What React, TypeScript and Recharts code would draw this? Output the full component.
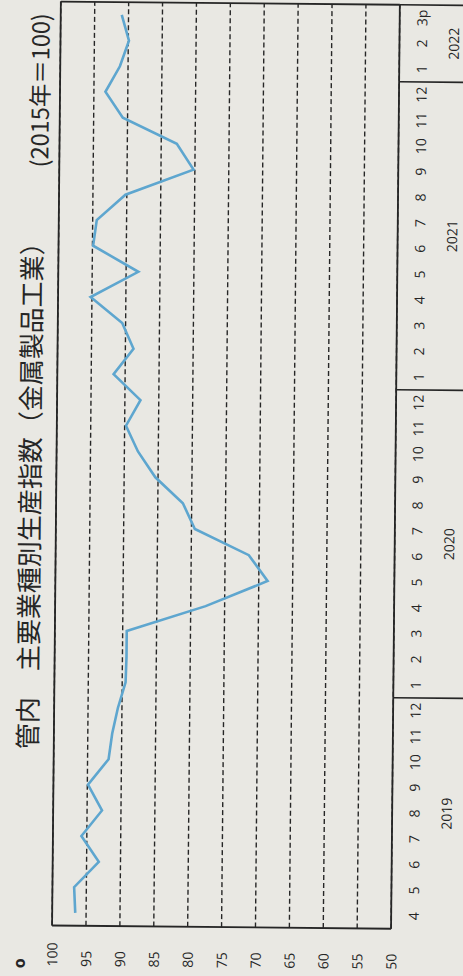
import React from "react";
import { LineChart, Line, XAxis, YAxis, CartesianGrid, ReferenceLine } from "recharts";

// 管内 主要業種別生産指数（金属製品工業） 2019/4 - 2022/3p
const months = [
  "4", "5", "6", "7", "8", "9", "10", "11", "12",
  "1", "2", "3", "4", "5", "6", "7", "8", "9", "10", "11", "12",
  "1", "2", "3", "4", "5", "6", "7", "8", "9", "10", "11", "12",
  "1", "2", "3p",
];
const values = [
  96.6, 96.8, 93.2, 95.8, 92.8, 94.9, 91.9, 91.4, 90.6,
  89.5, 89.4, 89.4, 77.8, 68.7, 71.5, 79.5, 81.3, 85.4, 88.0, 89.8, 87.7,
  91.7, 88.8, 90.5, 95.2, 88.2, 94.9, 94.4, 90.2, 80.2, 82.7, 90.7, 93.3,
  91.2, 89.9, 91.0,
];
const years = ["2019", "2020", "2021", "2022"];
const monthsPerYear = [9, 12, 12, 3];
const yTicks = [50, 55, 60, 65, 70, 75, 80, 85, 90, 95, 100];

const data = months.map((m, i) => ({ key: i, m, v: values[i] }));

// year boundaries / centres on a 0..36 month scale
const bounds: number[] = [];
const centres: number[] = [];
const centreLabel: Record<string, string> = {};
let acc = 0;
monthsPerYear.forEach((n, i) => {
  const c = acc + n / 2;
  centres.push(c);
  centreLabel[String(c)] = years[i];
  acc += n;
  bounds.push(acc);
});
const yearTicks = [...centres, ...bounds].sort((a, b) => a - b);

const W = 976;
const H = 463;
const PLOT_L = 50;
const PLOT_R = 974;
const PLOT_T = 53;
const PLOT_B = 392;
const MONTH_H = 26;
const YEAR_H = H - PLOT_B - MONTH_H;
const band = (PLOT_R - PLOT_L) / months.length;

const INK = "#262626";
const PAPER = "#e9e8e3";
const NUM_FONT = "'Open Sans', sans-serif";
const JP_FONT = "'Noto Sans CJK JP', sans-serif";

function YTick({ y, payload }: any) {
  return (
    <text x={9} y={y} dominantBaseline="central" textAnchor="start" fontSize={14} fill={INK} fontFamily={NUM_FONT}>
      {payload.value}
    </text>
  );
}

function MonthTick({ x, payload }: any) {
  return (
    <text x={x} y={PLOT_B + 22} dominantBaseline="central" textAnchor="middle" fontSize={14} fill={INK} fontFamily={NUM_FONT}>
      {months[payload.value]}
    </text>
  );
}

function YearTick({ x, payload }: any) {
  const label = centreLabel[String(payload.value)];
  if (label) {
    return (
      <text x={x} y={PLOT_B + 54} dominantBaseline="central" textAnchor="middle" fontSize={14} fill={INK} fontFamily={NUM_FONT}>
        {label}
      </text>
    );
  }
  return <line x1={x} x2={x} y1={PLOT_B} y2={H} stroke={INK} strokeWidth={1.6} />;
}

export default function App() {
  return (
    <div
      style={{
        position: "fixed",
        left: 0,
        top: 0,
        width: 463,
        height: 976,
        overflow: "hidden",
        background: PAPER,
      }}
    >
      <div
        style={{
          position: "absolute",
          left: 0,
          top: 0,
          width: W,
          height: H,
          transformOrigin: "0 0",
          transform: "translate(-1.4px, 975px) rotate(-89.455deg)",
        }}
      >
        <LineChart
          width={W}
          height={H}
          data={data}
          margin={{ top: PLOT_T, right: W - PLOT_R, bottom: 0, left: 0 }}
        >
          <CartesianGrid
            xAxisId="m"
            vertical={false}
            stroke={INK}
            strokeDasharray="5 3"
            strokeWidth={1.4}
          />
          <XAxis
            xAxisId="m"
            dataKey="key"
            height={MONTH_H}
            interval={0}
            tickSize={0}
            tickMargin={0}
            tickLine={false}
            padding={{ left: band / 2, right: band / 2 }}
            axisLine={{ stroke: INK, strokeWidth: 1.8 }}
            tick={<MonthTick />}
          />
          <XAxis
            xAxisId="yr"
            type="number"
            dataKey="key"
            domain={[0, months.length]}
            allowDataOverflow
            ticks={yearTicks}
            interval={0}
            height={YEAR_H}
            tickSize={0}
            tickMargin={0}
            tickLine={false}
            axisLine={false}
            tick={<YearTick />}
          />
          <YAxis
            domain={[50, 100]}
            ticks={yTicks}
            interval={0}
            width={PLOT_L}
            tickLine={false}
            axisLine={{ stroke: INK, strokeWidth: 1.8 }}
            tick={<YTick />}
          />
          <ReferenceLine xAxisId="m" y={100} stroke={INK} strokeWidth={1.8} />
          <ReferenceLine xAxisId="yr" x={months.length} stroke={INK} strokeWidth={1.8} />
          <Line
            xAxisId="m"
            type="linear"
            dataKey="v"
            stroke="#5ea6cf"
            strokeWidth={2.6}
            dot={false}
            isAnimationActive={false}
          />
        </LineChart>
        <svg
          width={W}
          height={H}
          style={{ position: "absolute", left: 0, top: 0, pointerEvents: "none" }}
        >
          <text x={7} y={20} dominantBaseline="central" fontSize={16} fontWeight="bold" fill={INK} fontFamily={NUM_FONT}>
            o
          </text>
          <text x={226} y={25} dominantBaseline="central" fontSize={26} fill={INK} fontFamily={JP_FONT}>
            管内　主要業種別生産指数（金属製品工業）
          </text>
          <text x={808} y={32} dominantBaseline="central" fontSize={23.5} fill={INK} fontFamily={JP_FONT}>
            (2015年＝100)
          </text>
        </svg>
      </div>
    </div>
  );
}
